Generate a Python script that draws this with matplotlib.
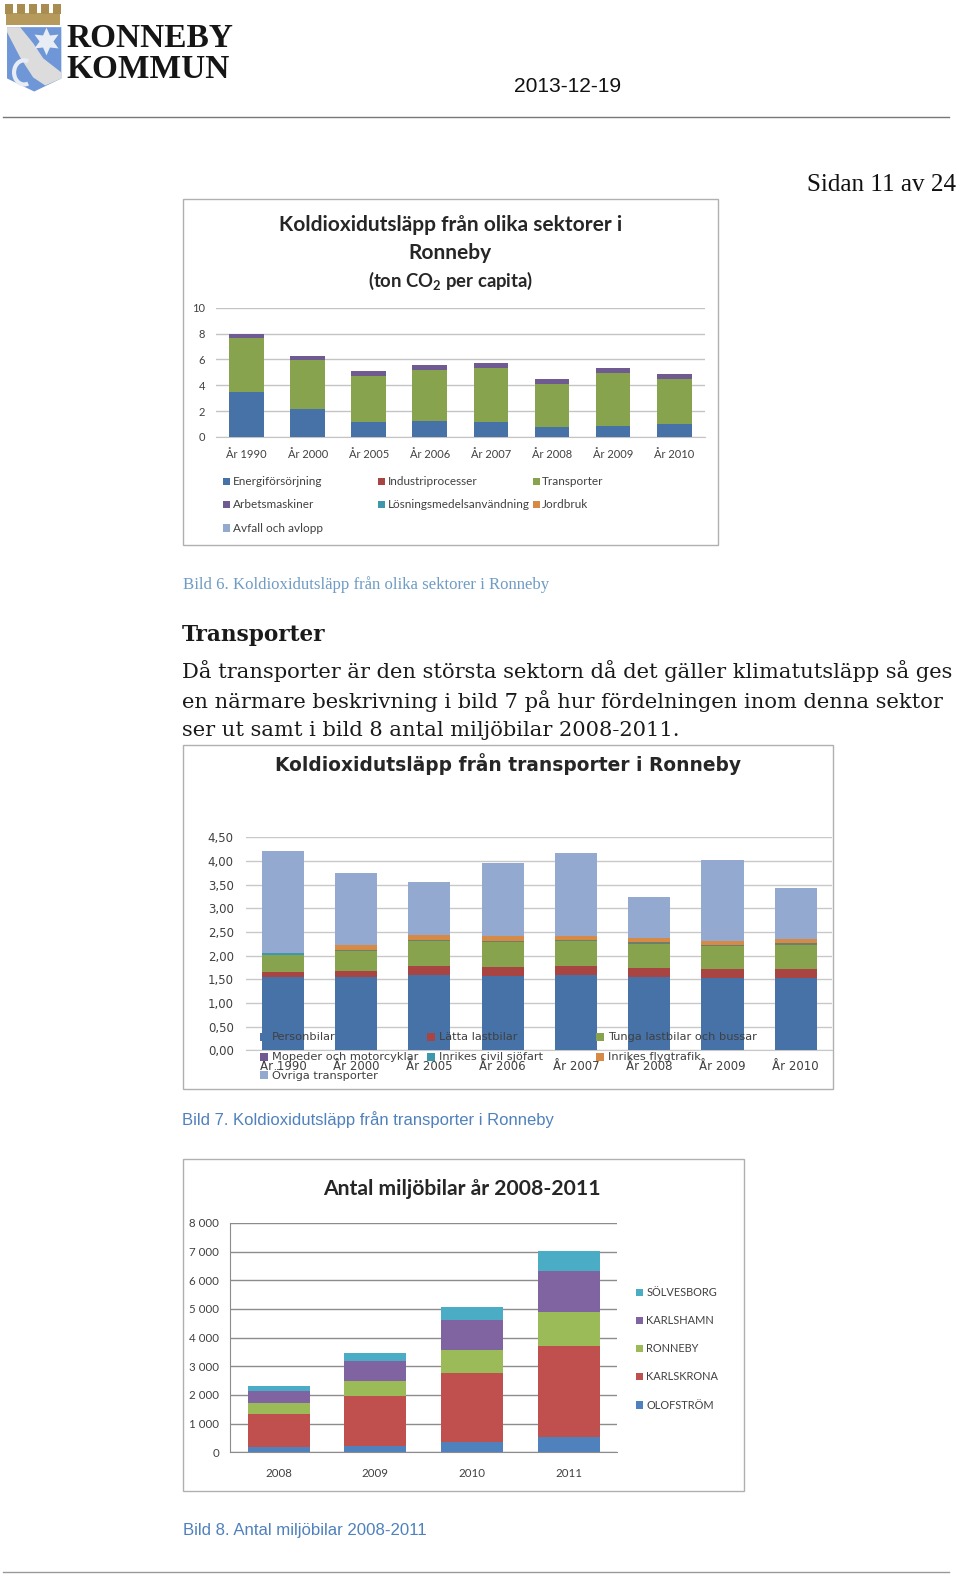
import matplotlib
matplotlib.use("Agg")
import matplotlib.pyplot as plt
from matplotlib.patches import Arc, Polygon, Rectangle

# chart 1, ton CO2 per capita
years_sector = ["År 1990", "År 2000", "År 2005", "År 2006", "År 2007", "År 2008", "År 2009", "År 2010"]
energi = [3.5, 2.2, 1.15, 1.25, 1.15, 0.8, 0.85, 1.0]
sector_transport = [4.15, 3.75, 3.55, 3.95, 4.2, 3.3, 4.1, 3.5]
arbetsmaskiner = [0.3, 0.35, 0.4, 0.35, 0.37, 0.37, 0.38, 0.4]
sector_ticks = [0, 2, 4, 6, 8, 10]

# chart 2, transport split
years_transport = years_sector
personbilar = [1.56, 1.56, 1.59, 1.58, 1.585, 1.55, 1.54, 1.53]
latta = [0.095, 0.12, 0.2, 0.18, 0.205, 0.195, 0.19, 0.2]
tunga = [0.365, 0.43, 0.53, 0.54, 0.525, 0.5, 0.47, 0.5]
mopeder = [0.0, 0.02, 0.02, 0.02, 0.02, 0.035, 0.03, 0.03]
sjofart = [0.035, 0.0, 0.0, 0.0, 0.0, 0.0, 0.0, 0.0]
flyg = [0.0, 0.1, 0.1, 0.09, 0.085, 0.1, 0.09, 0.085]
ovriga = [2.145, 1.52, 1.12, 1.54, 1.75, 0.86, 1.7, 1.095]
transport_ticks = [0, 0.5, 1, 1.5, 2, 2.5, 3, 3.5, 4, 4.5]

# chart 3, number of green cars
car_years = ["2008", "2009", "2010", "2011"]
olofstrom = [175, 235, 370, 525]
karlskrona = [1175, 1745, 2390, 3200]
ronneby = [370, 510, 825, 1165]
karlshamn = [430, 690, 1015, 1420]
solvesborg = [165, 280, 465, 700]
car_ticks = [0, 1000, 2000, 3000, 4000, 5000, 6000, 7000, 8000]

BLUE = "#4672a8"
RED = "#a84442"
GREEN = "#87a34d"
PURPLE = "#6f5a92"
TEAL = "#3f97ae"
ORANGE = "#d68a45"
LIGHT = "#93a9cf"

PAGE_W = 955
PAGE_H = 1568
LOGO_SERIF = "Liberation Serif"
BODY = "DejaVu Serif"
NARROW = ["Liberation Sans Narrow", "Lato"]

fig = plt.figure(figsize=(9.6, 15.77), dpi=100)

# overlay in page pixels for all the page text and frames
page = fig.add_axes([0, 0, 1, 1], zorder=5)
page.set_xlim(0, PAGE_W)
page.set_ylim(PAGE_H, 0)
page.axis("off")


def chart_axes(x0, x1, y_top, y_bottom):
    return fig.add_axes([x0 / PAGE_W, 1 - y_bottom / PAGE_H,
                         (x1 - x0) / PAGE_W, (y_bottom - y_top) / PAGE_H], zorder=2)


def frame(x0, y0, x1, y1, color="#b0b0b0"):
    page.add_patch(Rectangle((x0, y0), x1 - x0, y1 - y0, fill=False, ec=color, lw=1))


def legend_item(x, y, label, color, size, family, box=8, gap=2.5, text_color="#404040"):
    page.add_patch(Rectangle((x, y - box / 2), box, box, fc=color, ec="none"))
    page.text(x + box + gap, y, label, fontsize=size, family=family, color=text_color, va="center")


def stacked(ax, labels, series, colors, width):
    bottom = [0] * len(labels)
    for values, color in zip(series, colors):
        ax.bar(labels, values, width=width, bottom=bottom, color=color, zorder=3)
        bottom = [b + v for b, v in zip(bottom, values)]
    ax.set_xlim(-0.5, len(labels) - 0.5)


def style_axes(ax, ticks, tick_labels, grid, size, family, pad_x, pad_y, color="#404040"):
    ax.set_yticks(ticks)
    ax.set_yticklabels(tick_labels, fontsize=size, family=family, color=color)
    ax.set_ylim(ticks[0], ticks[-1])
    ax.grid(axis="y", color=grid, lw=1, zorder=0)
    ax.tick_params(axis="both", length=0)
    ax.tick_params(axis="y", pad=pad_y)
    ax.tick_params(axis="x", pad=pad_x, labelsize=size, labelcolor=color)
    for label in ax.get_xticklabels():
        label.set_family(family)
    for side in ["top", "right", "left"]:
        ax.spines[side].set_visible(False)
    ax.spines["bottom"].set_color(grid)


# header, logo is only a rough drawing of the coat of arms
page.add_patch(Rectangle((6, 13), 54, 12, fc="#b59a5c", ec="none"))
for merlon_x in [5, 17, 29, 41, 53]:
    page.add_patch(Rectangle((merlon_x, 4), 8, 10, fc="#a88c50", ec="none"))
page.add_patch(Polygon([(7, 27), (61, 27), (61, 78), (34, 91), (7, 78)], fc="#6f96d6", ec="none"))
page.add_patch(Polygon([(7, 27), (20, 27), (33, 43), (43, 58), (61, 72), (61, 78), (45, 85), (33, 77), (20, 57), (7, 32)], fc="#dcdcdc", ec="none"))
page.plot([46], [41], marker=(6, 1, 0), ms=20, mew=0, color="#e8edf5")
page.add_patch(Arc((24, 72), 20, 24, theta1=70, theta2=290, ec="#e8edf5", lw=3))
page.text(66, 38, "RONNEBY", fontsize=24, family=LOGO_SERIF, weight="bold", color="#151515", va="center")
page.text(66, 69, "KOMMUN", fontsize=24, family=LOGO_SERIF, weight="bold", color="#151515", va="center")
page.text(511, 86, "2013-12-19", fontsize=15.1, family="Liberation Sans", color="#111111", va="center")
page.plot([3, 944], [116, 116], color="#777777", lw=1)
page.text(951, 184, "Sidan 11 av 24", fontsize=18.1, family="Liberation Serif", color="#111111", va="center", ha="right")

# chart 1
frame(182, 198, 714, 542)
ax1 = chart_axes(215, 701, 306, 434.5)
stacked(ax1, years_sector, [energi, sector_transport, arbetsmaskiner], [BLUE, GREEN, PURPLE], 0.57)
style_axes(ax1, sector_ticks, [str(t) for t in sector_ticks], "#c4c4c4", 8, "Lato", 9, 8)
page.text(448, 224, "Koldioxidutsläpp från olika sektorer i", fontsize=15, family="Lato", weight="bold", color="#262626", ha="center", va="center")
page.text(448, 252, "Ronneby", fontsize=15, family="Lato", weight="bold", color="#262626", ha="center", va="center")
page.text(448, 279, "(ton CO$_\\mathregular{2}$ per capita)", fontsize=13.3, family="Lato", weight="bold", color="#262626", ha="center", va="center")
sector_legend = [
    (222, 479, "Energiförsörjning", BLUE), (376, 479, "Industriprocesser", RED), (530, 479, "Transporter", GREEN),
    (222, 502, "Arbetsmaskiner", PURPLE), (376, 502, "Lösningsmedelsanvändning", TEAL), (530, 502, "Jordbruk", ORANGE),
    (222, 525, "Avfall och avlopp", LIGHT),
]
for x, y, label, color in sector_legend:
    legend_item(x, y, label, color, 8.45, "Lato", box=7)

# captions and body text
page.text(182, 581, "Bild 6. Koldioxidutsläpp från olika sektorer i Ronneby", fontsize=12.1, family="Liberation Serif", color="#6e9cc4", va="center")
page.text(181, 631, "Transporter", fontsize=15.6, family=BODY, weight="bold", color="#1a1a1a", va="center")
page.text(181, 667, "Då transporter är den största sektorn då det gäller klimatutsläpp så ges", fontsize=15.15, family=BODY, color="#1a1a1a", va="center")
page.text(181, 697, "en närmare beskrivning i bild 7 på hur fördelningen inom denna sektor", fontsize=15.15, family=BODY, color="#1a1a1a", va="center")
page.text(181, 726, "ser ut samt i bild 8 antal miljöbilar 2008-2011.", fontsize=15.15, family=BODY, color="#1a1a1a", va="center")

# chart 2
frame(182, 741, 829, 1083)
ax2 = chart_axes(245, 828, 832.5, 1044.5)
stacked(ax2, years_transport, [personbilar, latta, tunga, mopeder, sjofart, flyg, ovriga],
        [BLUE, RED, GREEN, "#6b7f6b", TEAL, ORANGE, LIGHT], 0.575)
style_axes(ax2, transport_ticks, [f"{t:.2f}".replace(".", ",") for t in transport_ticks], "#c8c8c8", 8.5, "DejaVu Sans", 7, 9)
page.text(505, 760, "Koldioxidutsläpp från transporter i Ronneby", fontsize=13.45, family="DejaVu Sans", weight="bold", color="#262626", ha="center", va="center")
transport_legend = [
    (259, 1031, "Personbilar", BLUE), (425, 1031, "Lätta lastbilar", RED), (593, 1031, "Tunga lastbilar och bussar", GREEN),
    (259, 1051, "Mopeder och motorcyklar", PURPLE), (425, 1051, "Inrikes civil sjöfart", TEAL), (593, 1051, "Inrikes flygtrafik", ORANGE),
    (259, 1069, "Övriga transporter", LIGHT),
]
for x, y, label, color in transport_legend:
    legend_item(x, y, label, color, 8.2, "DejaVu Sans", box=8, gap=3.5)
page.text(181, 1113, "Bild 7. Koldioxidutsläpp från transporter i Ronneby", fontsize=12, family="Liberation Sans", color="#4f81bd", va="center")

# chart 3
frame(182, 1152, 740, 1482)
ax3 = chart_axes(229, 614, 1216, 1444)
stacked(ax3, car_years, [olofstrom, karlskrona, ronneby, karlshamn, solvesborg],
        ["#4f81bd", "#c0504d", "#9bbb59", "#8064a2", "#4bacc6"], 0.64)
car_labels = [f"{t:,}".replace(",", " ") for t in car_ticks]
style_axes(ax3, car_ticks, car_labels, "#8c8c8c", 8.3, NARROW, 11, 8)
ax3.spines["left"].set_visible(True)
ax3.spines["left"].set_color("#8c8c8c")
page.text(460, 1182, "Antal miljöbilar år 2008-2011", fontsize=15.2, family=NARROW, weight="bold", color="#262626", ha="center", va="center")
car_legend = [
    (633, 1285, "SÖLVESBORG", "#4bacc6"), (633, 1313, "KARLSHAMN", "#8064a2"), (633, 1341, "RONNEBY", "#9bbb59"),
    (633, 1369, "KARLSKRONA", "#c0504d"), (633, 1397, "OLOFSTRÖM", "#4f81bd"),
]
for x, y, label, color in car_legend:
    legend_item(x, y, label, color, 7.9, NARROW, box=7, gap=3)
page.text(182, 1522, "Bild 8. Antal miljöbilar 2008-2011", fontsize=12.1, family="Liberation Sans", color="#4f81bd", va="center")
page.plot([3, 944], [1563, 1563], color="#999999", lw=1)

fig.savefig("out.png", dpi=100)
